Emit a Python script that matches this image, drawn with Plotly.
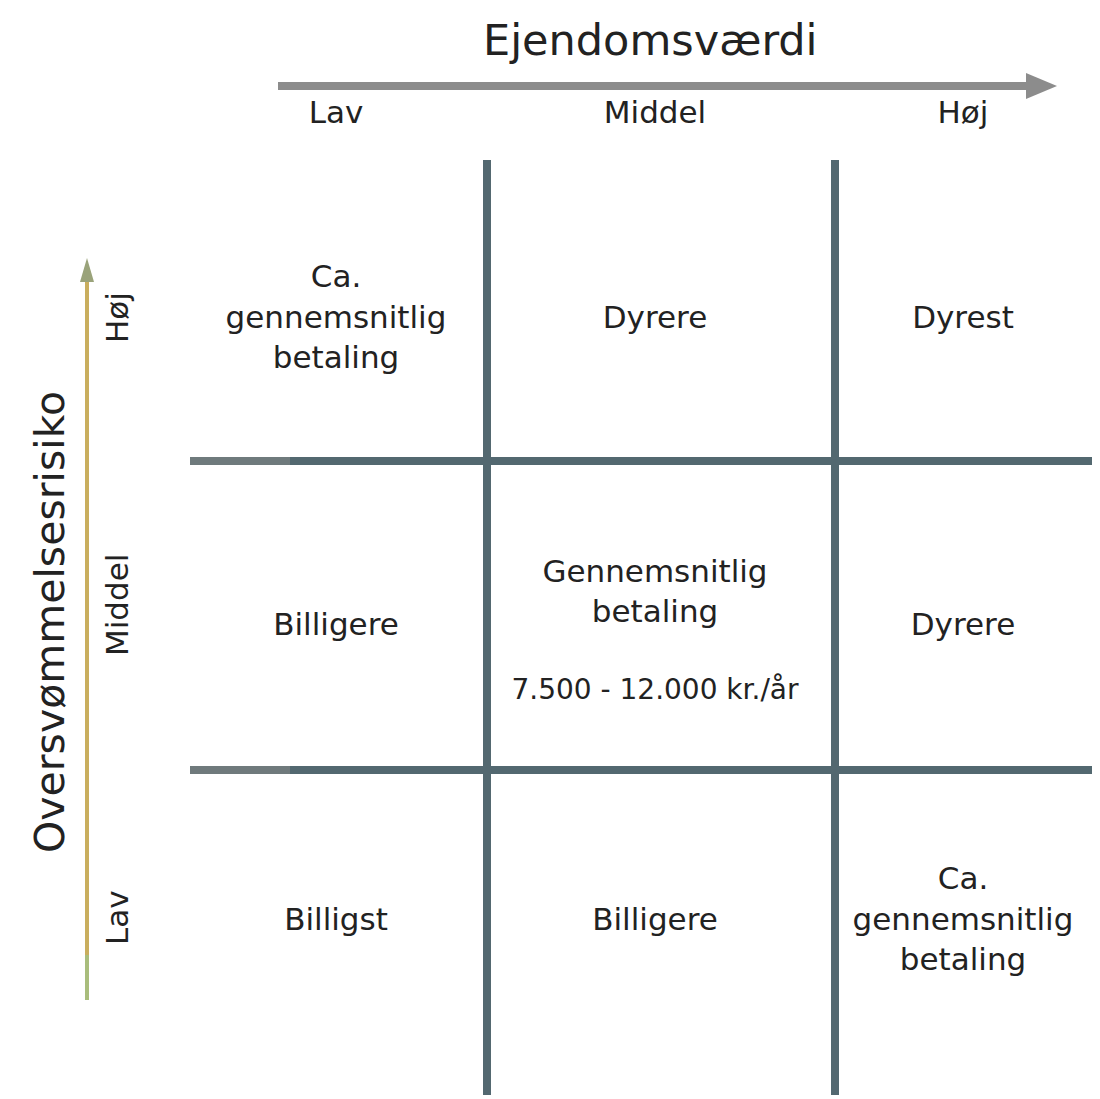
import plotly.graph_objects as go

# ---- data ----
x_title = "Ejendomsværdi"
y_title = "Oversvømmelsesrisiko"
col_labels = ["Lav", "Middel", "Høj"]
row_labels = ["Høj", "Middel", "Lav"]
cell_text = [
    ["Ca.<br>gennemsnitlig<br>betaling", "Dyrere", "Dyrest"],
    ["Billigere", "Gennemsnitlig<br>betaling", "Dyrere"],
    ["Billigst", "Billigere", "Ca.<br>gennemsnitlig<br>betaling"],
]
price_note = "7.500 - 12.000 kr./år"

# ---- layout constants (pixel coordinate system) ----
W, H = 1100, 1099
OFF = 8  # page body margin
col_x = [336, 655, 963]
row_y = [320, 627, 922]
FONT = "DejaVu Sans"
TXT = "#222222"
GRID = "#536870"

fig = go.Figure()

# cell texts
xs, ys, ts = [], [], []
for r, row in enumerate(cell_text):
    for c, t in enumerate(row):
        xs.append(col_x[c])
        y = row_y[r]
        if r == 1 and c == 1:
            y = 594
        ys.append(y)
        ts.append(t)
fig.add_trace(go.Scatter(x=xs, y=ys, text=ts, mode="text",
                         textfont=dict(family=FONT, size=31, color=TXT),
                         hoverinfo="skip", showlegend=False))
fig.add_trace(go.Scatter(x=[col_x[1]], y=[692], text=[price_note], mode="text",
                         textfont=dict(family=FONT, size=28, color=TXT),
                         hoverinfo="skip", showlegend=False))
# column labels
fig.add_trace(go.Scatter(x=col_x, y=[115] * 3, text=col_labels, mode="text",
                         textfont=dict(family=FONT, size=31, color=TXT),
                         hoverinfo="skip", showlegend=False))

shapes = []
# grid lines
for gx in [487, 835]:
    shapes.append(dict(type="line", x0=gx, x1=gx, y0=160, y1=1095,
                       line=dict(color=GRID, width=8), xref="x", yref="y"))
for gy in [461, 770]:
    shapes.append(dict(type="line", x0=290, x1=1108, y0=gy, y1=gy,
                       line=dict(color=GRID, width=8), xref="x", yref="y"))
    shapes.append(dict(type="line", x0=190, x1=290, y0=gy, y1=gy,
                       line=dict(color="#6f7a7c", width=8), xref="x", yref="y"))
# top arrow
shapes.append(dict(type="line", x0=278, x1=1030, y0=86, y1=86,
                   line=dict(color="#8c8c8c", width=8)))
shapes.append(dict(type="path", path="M 1026 73 L 1057 86 L 1026 99 Z",
                   fillcolor="#8c8c8c", line=dict(width=0)))
# left arrow
shapes.append(dict(type="line", x0=87, x1=87, y0=955, y1=1000,
                   line=dict(color="#a9bd7c", width=4)))
shapes.append(dict(type="line", x0=87, x1=87, y0=280, y1=955,
                   line=dict(color="#c9ae5e", width=4)))
shapes.append(dict(type="path", path="M 80 282 L 87 258 L 94 282 Z",
                   fillcolor="#9aa37a", line=dict(width=0)))
fig.update_layout(shapes=shapes)

annotations = [
    dict(x=650, y=40, text=x_title, showarrow=False,
         font=dict(family=FONT, size=43, color=TXT)),
    dict(x=50, y=622, text=y_title, showarrow=False, textangle=-90,
         font=dict(family=FONT, size=41, color=TXT)),
]
for lab, y in zip(row_labels, [318, 605, 918]):
    annotations.append(dict(x=117, y=y, text=lab, showarrow=False, textangle=-90,
                            font=dict(family=FONT, size=31, color=TXT)))
fig.update_layout(annotations=annotations)

fig.update_xaxes(range=[OFF, W + OFF], visible=False, fixedrange=True)
fig.update_yaxes(range=[H + OFF, OFF], visible=False, fixedrange=True)
fig.update_layout(width=W, height=H, margin=dict(l=0, r=0, t=0, b=0),
                  plot_bgcolor="white", paper_bgcolor="white")

fig.write_html("out.html")
